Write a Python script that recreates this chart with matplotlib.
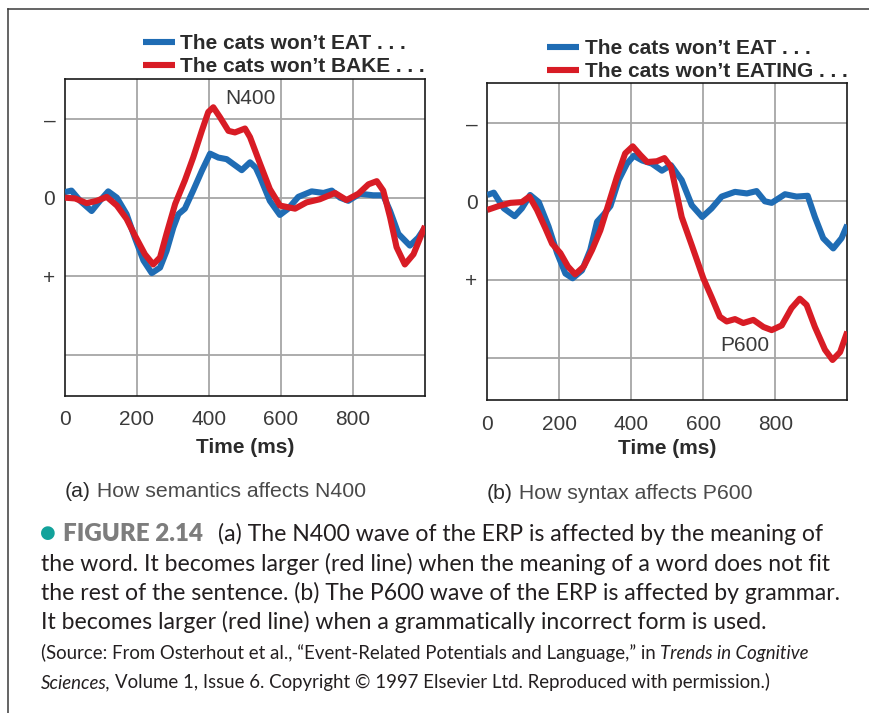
import matplotlib
matplotlib.use("Agg")
import matplotlib.pyplot as plt
from matplotlib.lines import Line2D

# ---------------- data ----------------
# Panel (a): semantics / N400  (values in arbitrary units, negative = up)
a_eat_t = [0, 18, 42, 74, 97, 120, 144, 171, 194, 218, 241, 264, 282, 301, 315, 333, 356, 380,
           403, 426, 449, 470, 491, 514, 530, 542, 569, 597, 620, 648, 685, 718, 741, 764, 787,
           819, 856, 884, 903, 926, 958, 981, 1000]
a_eat_v = [-0.07, -0.09, 0.04, 0.17, 0.04, -0.08, 0.00, 0.21, 0.51, 0.80, 0.96, 0.89, 0.68, 0.38,
           0.21, 0.14, -0.09, -0.34, -0.56, -0.51, -0.49, -0.42, -0.35, -0.45, -0.38, -0.26, 0.04,
           0.22, 0.14, -0.01, -0.08, -0.06, -0.09, 0.00, 0.04, -0.05, -0.03, -0.03, 0.17, 0.46,
           0.61, 0.51, 0.38]
a_bake_t = [0, 28, 60, 88, 116, 144, 171, 194, 222, 245, 264, 282, 306, 333, 356, 380, 398, 412,
            431, 454, 472, 500, 514, 542, 569, 597, 639, 671, 708, 750, 782, 815, 843, 866, 884,
            903, 921, 944, 968, 1000]
a_bake_v = [0.00, 0.01, 0.07, 0.04, -0.01, 0.10, 0.27, 0.48, 0.72, 0.85, 0.76, 0.46, 0.08, -0.22,
            -0.51, -0.85, -1.09, -1.15, -1.02, -0.85, -0.83, -0.88, -0.77, -0.43, -0.11, 0.10,
            0.14, 0.06, 0.02, -0.06, 0.03, -0.05, -0.17, -0.21, -0.09, 0.25, 0.63, 0.85, 0.72,
            0.36]

# Panel (b): syntax / P600
b_eat_t = [0, 18, 46, 76, 96, 119, 143, 170, 194, 217, 237, 263, 286, 305, 323, 342, 365, 388,
           407, 430, 457, 485, 510, 540, 568, 597, 623, 651, 688, 721, 748, 771, 790, 827, 859,
           890, 910, 933, 961, 984, 1000]
b_eat_v = [-0.08, -0.11, 0.09, 0.19, 0.09, -0.08, 0.01, 0.32, 0.66, 0.92, 0.98, 0.88, 0.62, 0.26,
           0.17, 0.06, -0.27, -0.48, -0.58, -0.52, -0.48, -0.39, -0.46, -0.27, 0.05, 0.20, 0.09,
           -0.06, -0.12, -0.10, -0.13, 0.00, 0.02, -0.09, -0.06, -0.07, 0.20, 0.47, 0.60, 0.47,
           0.30]
b_eating_t = [0, 32, 64, 96, 117, 138, 161, 180, 203, 224, 244, 268, 291, 314, 337, 360, 383,
              404, 425, 444, 471, 492, 510, 526, 540, 568, 600, 623, 646, 665, 688, 711, 739,
              767, 790, 818, 845, 868, 887, 910, 938, 959, 980, 1000]
b_eating_v = [0.11, 0.06, 0.02, 0.01, -0.06, 0.11, 0.34, 0.54, 0.66, 0.83, 0.93, 0.83, 0.62,
              0.37, 0.03, -0.31, -0.61, -0.70, -0.59, -0.50, -0.51, -0.55, -0.44, -0.10, 0.20,
              0.56, 0.98, 1.22, 1.47, 1.53, 1.50, 1.55, 1.51, 1.60, 1.64, 1.58, 1.36, 1.24,
              1.32, 1.60, 1.89, 2.02, 1.92, 1.66]

x_ticks = [0, 200, 400, 600, 800]
x_tick_labels = ["0", "200", "400", "600", "800"]
y_ticks = [-1, 0, 1]
y_tick_labels = ["\u2013", "0", "+"]
y_grid = [-1, 0, 1, 2]

legend_a = ["The cats won\u2019t EAT . . .", "The cats won\u2019t BAKE . . ."]
legend_b = ["The cats won\u2019t EAT . . .", "The cats won\u2019t EATING . . ."]

BLUE = "#1f6cb4"
RED = "#d81c25"
GRID = "#a6a6a6"
TXT = "#2b2b2b"

plt.rcParams["font.family"] = ["Liberation Sans", "DejaVu Sans"]

W, H = 869, 713
fig = plt.figure(figsize=(W / 100, H / 100), dpi=100)
fig.patch.set_facecolor("white")


def fx(px):
    return px / W


def fy(py):
    return 1 - py / H


def make_axes(left, top, right, bottom):
    return fig.add_axes([fx(left), fy(bottom), fx(right) - fx(left), fy(top) - fy(bottom)])


axA = make_axes(65, 79, 425, 395.7)
axB = make_axes(487.3, 82.7, 847.3, 400)


def style(ax, ylim, series, labels, ann, ann_xy, leg_y, lpad):
    for (t, v, c) in series:
        ax.plot(t, v, color=c, lw=4.4, solid_joinstyle="round", solid_capstyle="butt", zorder=3)
    ax.set_xlim(0, 1000)
    ax.set_ylim(*ylim)
    for x in x_ticks[1:]:
        ax.axvline(x, color=GRID, lw=1.3, zorder=1)
    for y in y_grid:
        ax.axhline(y, color=GRID, lw=1.3, zorder=1)
    ax.set_xticks(x_ticks)
    ax.set_xticklabels(x_tick_labels)
    ax.set_yticks(y_ticks)
    ax.set_yticklabels(y_tick_labels)
    ax.tick_params(axis="both", length=0, labelsize=15, labelcolor="#3a3a3a")
    ax.tick_params(axis="x", pad=10.5)
    ax.tick_params(axis="y", pad=7)
    for s in ax.spines.values():
        s.set_color("#1a1a1a")
        s.set_linewidth(1.2)
    ax.set_xlabel("Time (ms)", fontsize=15, fontweight="bold", color=TXT, labelpad=lpad)
    ax.text(ann_xy[0], ann_xy[1], ann, fontsize=15, color="#3a3a3a", ha="center", va="center",
            zorder=4)
    handles = [Line2D([], [], color=BLUE, lw=4.4, solid_capstyle="butt"),
               Line2D([], [], color=RED, lw=4.4, solid_capstyle="butt")]
    leg = ax.legend(handles, labels, loc="lower right", bbox_to_anchor=(1.0, leg_y),
                    frameon=False, borderpad=0, borderaxespad=0, handlelength=1.55,
                    handletextpad=0.25, labelspacing=0.18,
                    prop={"weight": "bold", "size": 15})
    for t in leg.get_texts():
        t.set_color(TXT)


style(axA, (2.52, -1.51),
      [(a_eat_t, a_eat_v, BLUE), (a_bake_t, a_bake_v, RED)],
      legend_a, "N400", (515, -1.26), 1.01, 6)
style(axB, (2.53, -1.51),
      [(b_eat_t, b_eat_v, BLUE), (b_eating_t, b_eating_v, RED)],
      legend_b, "P600", (715, 1.83), 1.005, 4)

# ---------------- background axes for frame and captions ----------------
bg = fig.add_axes([0, 0, 1, 1], zorder=-1)
bg.set_xlim(0, W)
bg.set_ylim(H, 0)
bg.axis("off")
bg.plot([8, W], [9, 9], color="#3a3a3a", lw=1.1)
bg.plot([8, 8], [9, H], color="#3a3a3a", lw=1.1)

renderer = fig.canvas.get_renderer()


def fit(artist, target_width, base=10.0):
    artist.set_fontsize(base)
    w = artist.get_window_extent(renderer).width
    size = base * target_width / w
    artist.set_fontsize(size)
    return size


# sub-captions
SUB = 15.3
sa = bg.text(65, 497, "(a)", fontsize=SUB, color="#2a2a2a", va="baseline", ha="left")
bg.annotate(" How semantics affects N400", xy=(1, 497), xycoords=(sa, "data"),
            fontsize=SUB, color="#4a4a4a", va="baseline", ha="left")
sb = bg.text(487, 499, "(b)", fontsize=SUB, color="#2a2a2a", va="baseline", ha="left")
bg.annotate(" How syntax affects P600", xy=(1, 499), xycoords=(sb, "data"),
            fontsize=SUB, color="#4a4a4a", va="baseline", ha="left")

# figure caption
CAP = ["Lato", "Open Sans", "DejaVu Sans"]
CC = "#231f20"
LX = 41
lines = ["the word. It becomes larger (red line) when the meaning of a word does not fit",
         "the rest of the sentence. (b) The P600 wave of the ERP is affected by grammar.",
         "It becomes larger (red line) when a grammatically incorrect form is used."]
baselines = [571, 600, 629]
cap_texts = [bg.text(LX, b, ln, color=CC, va="baseline", ha="left", family=CAP, fontsize=10)
             for ln, b in zip(lines, baselines)]
l1 = bg.text(218, 541, "(a) The N400 wave of the ERP is affected by the meaning of", color=CC,
             va="baseline", ha="left", family=CAP, fontsize=10)
all_main = cap_texts + [l1]
targets = [838 - LX, 829 - LX, 778 - LX, 816 - 218]
wsum = sum(t.get_window_extent(renderer).width for t in all_main)
CS = 10 * sum(targets) / wsum
for t in all_main:
    t.set_fontsize(CS)

bg.text(LX - 1, 533, "\u25CF", fontsize=13, color="#12a29b", va="center", ha="left",
        family=["DejaVu Sans"])
fig_t = bg.text(63, 541, "FIGURE 2.14", color="#7d7d7d", fontweight="heavy", va="baseline",
                ha="left", family=CAP)
fit(fig_t, 203 - 63)

s1 = bg.text(LX, 659, "(Source: From Osterhout et al., \u201cEvent-Related Potentials and Language,\u201d in ",
             color=CC, va="baseline", ha="left", family=CAP)
s1b = bg.annotate("Trends in Cognitive", xy=(1, 659), xycoords=(s1, "data"), color=CC,
                  va="baseline", ha="left", family=CAP, style="italic")
s1.set_fontsize(10)
s1b.set_fontsize(10)
wtot = s1.get_window_extent(renderer).width + s1b.get_window_extent(renderer).width
SS = 10 * (807 - LX) / wtot
s1.set_fontsize(SS)
s1b.set_fontsize(SS)
s2 = bg.text(LX, 688, "Sciences,", fontsize=SS, color=CC, va="baseline", ha="left", family=CAP,
             style="italic")
bg.annotate("Volume 1, Issue 6. Copyright \u00a9 1997 Elsevier Ltd. Reproduced with permission.)",
            xy=(1, 688), xycoords=(s2, "data"), xytext=(4, 0), textcoords="offset pixels",
            fontsize=SS, color=CC, va="baseline", ha="left", family=CAP)

fig.savefig("out.png", dpi=100, facecolor="white")
